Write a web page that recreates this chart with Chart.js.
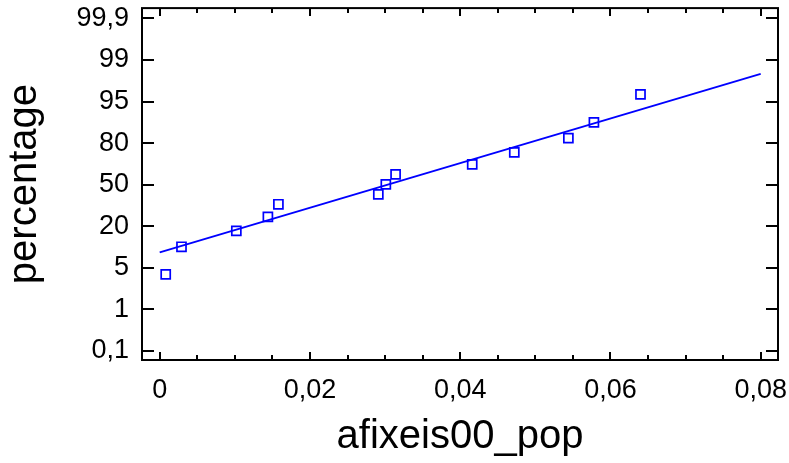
<!DOCTYPE html>
<html>
<head>
<meta charset="utf-8">
<script src="https://cdn.jsdelivr.net/npm/chart.js@4.4.1/dist/chart.umd.min.js"></script>
<style>
  html, body { margin: 0; padding: 0; background: #fff; }
  canvas { display: block; }
</style>
</head>
<body>
<canvas id="probPlot" width="789" height="463"></canvas>
<script>
// data
var xValues = [0.0008, 0.0029, 0.0102, 0.0144, 0.0158, 0.0291, 0.0301, 0.0314, 0.0416, 0.0472, 0.0544, 0.0578, 0.0640];
var pctValues = [4.0, 10.8, 17.6, 25.8, 34.6, 42.3, 50.3, 58.3, 66.0, 74.4, 82.6, 89.3, 96.1];
var fitX = [0, 0.08];
var fitPct = [8.9, 98.2];

// axis ticks
var yTickPct = [0.1, 1, 5, 20, 50, 80, 95, 99, 99.9];
var yTickLabels = ["0,1", "1", "5", "20", "50", "80", "95", "99", "99,9"];
var xTickValues = [0, 0.02, 0.04, 0.06, 0.08];
var xTickLabels = ["0", "0,02", "0,04", "0,06", "0,08"];
var xMinorStep = 0.005;

// inverse normal cdf (Acklam)
function probit(p) {
     var a = [-39.69683028665376, 220.9460984245205, -275.9285104469687, 138.3577518672690, -30.66479806614716, 2.506628277459239];
     var b = [-54.47609879822406, 161.5858368580409, -155.6989798598866, 66.80131188771972, -13.28068155288572];
     var c = [-0.007784894002430293, -0.3223964580411365, -2.400758277161838, -2.549732539343734, 4.374664141464968, 2.938163982698783];
     var d = [0.007784695709041462, 0.3224671290700398, 2.445134137142996, 3.754408661907416];
     var q, r;
     if (p < 0.02425) {
          q = Math.sqrt(-2 * Math.log(p));
          return (((((c[0]*q+c[1])*q+c[2])*q+c[3])*q+c[4])*q+c[5]) / ((((d[0]*q+d[1])*q+d[2])*q+d[3])*q+1);
     }
     if (p > 1 - 0.02425) {
          q = Math.sqrt(-2 * Math.log(1 - p));
          return -(((((c[0]*q+c[1])*q+c[2])*q+c[3])*q+c[4])*q+c[5]) / ((((d[0]*q+d[1])*q+d[2])*q+d[3])*q+1);
     }
     q = p - 0.5; r = q * q;
     return (((((a[0]*r+a[1])*r+a[2])*r+a[3])*r+a[4])*r+a[5])*q / (((((b[0]*r+b[1])*r+b[2])*r+b[3])*r+b[4])*r+1);
}

// percentage -> position on the evenly spaced probability axis
function pctToAxis(pct) {
     var z = probit(pct / 100);
     var zt = yTickPct.map(function (t) { return probit(t / 100); });
     var i = 0;
     while (i < zt.length - 2 && z > zt[i + 1]) i++;
     return i + (z - zt[i]) / (zt[i + 1] - zt[i]);
}

var points = xValues.map(function (x, i) { return { x: x, y: pctToAxis(pctValues[i]) }; });
var fitLine = fitX.map(function (x, i) { return { x: x, y: pctToAxis(fitPct[i]) }; });

var fontFamily = "'Liberation Sans', Arial, sans-serif";

var frameAndTicks = {
     id: 'frameAndTicks',
     afterDraw: function (chart) {
          var ctx = chart.ctx;
          var a = chart.chartArea;
          var xs = chart.scales.x, ys = chart.scales.y;
          ctx.save();
          ctx.strokeStyle = '#000';
          ctx.lineWidth = 2;
          ctx.strokeRect(a.left, a.top, a.right - a.left, a.bottom - a.top);
          ctx.beginPath();
          // y ticks, left and right, pointing inward
          yTickPct.forEach(function (t, i) {
               var py = Math.round(ys.getPixelForValue(i));
               ctx.moveTo(a.left, py); ctx.lineTo(a.left + 12, py);
               ctx.moveTo(a.right, py); ctx.lineTo(a.right - 12, py);
          });
          // x ticks, bottom and top, major and minor
          for (var k = 0; k <= 16; k++) {
               var v = k * xMinorStep;
               var px = Math.round(xs.getPixelForValue(v));
               var len = (k % 4 === 0) ? 8 : 5;
               ctx.moveTo(px, a.bottom); ctx.lineTo(px, a.bottom - len);
               ctx.moveTo(px, a.top); ctx.lineTo(px, a.top + len);
          }
          ctx.stroke();
          ctx.restore();
     }
};

var ctx = document.getElementById('probPlot').getContext('2d');
var probChart = new Chart(ctx, {
     type: 'scatter',
     data: {
          datasets: [{
               label: 'fit',
               type: 'line',
               data: fitLine,
               borderColor: '#0000ff',
               borderWidth: 1.8,
               pointRadius: 0,
               fill: false
          }, {
               label: 'afixeis00_pop',
               data: points,
               pointStyle: 'rect',
               pointRadius: 6.4,
               pointBorderWidth: 1.7,
               borderColor: '#0000ff',
               backgroundColor: 'rgba(0,0,0,0)'
          }]
     },
     options: {
          responsive: false,
          animation: false,
          devicePixelRatio: 1,
          layout: { padding: { left: 0, right: 11, top: 8, bottom: 0 } },
          plugins: { legend: { display: false }, tooltip: { enabled: false } },
          scales: {
               x: {
                    type: 'linear',
                    min: -0.002357,
                    max: 0.082304,
                    grid: { display: false, drawTicks: false },
                    border: { display: false },
                    afterBuildTicks: function (s) { s.ticks = xTickValues.map(function (v) { return { value: v }; }); },
                    afterFit: function (s) { s.height = 103; s.paddingLeft = 0; s.paddingRight = 0; },
                    ticks: {
                         color: '#000',
                         padding: 14,
                         maxRotation: 0,
                         font: { family: fontFamily, size: 27 },
                         callback: function (v) { return xTickLabels[xTickValues.indexOf(v)]; }
                    },
                    title: {
                         display: true,
                         text: 'afixeis00_pop',
                         color: '#000',
                         font: { family: fontFamily, size: 40, lineHeight: 1 },
                         padding: { top: 0, bottom: 6 }
                    }
               },
               y: {
                    type: 'linear',
                    min: -0.216,
                    max: 8.248,
                    grid: { display: false, drawTicks: false },
                    border: { display: false },
                    afterBuildTicks: function (s) { s.ticks = yTickLabels.map(function (l, i) { return { value: i }; }); },
                    afterFit: function (s) { s.width = 142; s.paddingTop = 0; s.paddingBottom = 0; },
                    ticks: {
                         color: '#000',
                         padding: 13,
                         font: { family: fontFamily, size: 27 },
                         callback: function (v) { return yTickLabels[v]; }
                    },
                    title: {
                         display: true,
                         text: 'percentage',
                         color: '#000',
                         font: { family: fontFamily, size: 40, lineHeight: 1 },
                         padding: { top: 5, bottom: 0 }
                    }
               }
          }
     },
     plugins: [frameAndTicks]
});
</script>
</body>
</html>
